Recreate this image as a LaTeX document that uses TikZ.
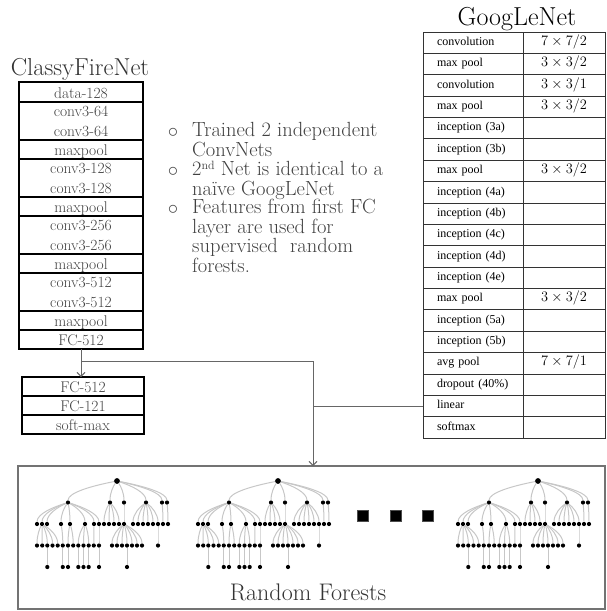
\documentclass[tikz,border=0pt]{standalone}
\usepackage{fontspec}
\usepackage{amsmath}
\newfontfamily\tabfont{Liberation Serif}
\usetikzlibrary{positioning,calc,arrows.meta}

\newcommand{\ordsup}[1]{\raisebox{6.5pt}{\fontsize{12}{12}\selectfont #1}}

\tikzset{
  cfbox/.style={draw, line width=1.3pt, minimum width=124pt, inner xsep=0pt, inner ysep=0pt,
    outer sep=0pt, text depth=3.5pt, anchor=base, align=center, text=black!75,
    font=\fontsize{15.5}{20}\selectfont},
  cfone/.style={cfbox, text height=15.5pt},
  cftwo/.style={cfbox, text height=34.5pt},
  glcell/.style={draw=black!80, line width=0.8pt, minimum height=21.37pt, inner ysep=0pt,
    outer sep=0pt, text height=8pt, text depth=2.5pt, font=\tabfont\fontsize{12}{13}\selectfont},
  glname/.style={glcell, text width=72pt, inner xsep=14pt, align=left, anchor=north west},
  glsize/.style={glcell, minimum width=82pt, inner xsep=0pt, font=\fontsize{13.5}{15}\selectfont},
  notes/.style={anchor=base west, align=left, inner sep=0pt, text=black!75,
    font=\fontsize{20.5}{19.4}\selectfont},
  wire/.style={draw=black!60, line width=0.9pt},
  rfdot/.style={circle, fill=black, inner sep=0pt, minimum size=4.2pt},
  rfedge/.style={draw=black!22, line width=1pt},
  rfsq/.style={fill=black, draw=black!70, inner sep=0pt, minimum size=11pt},
  pics/rftree/.style={code={
    \node[rfdot, minimum size=5.8pt] (r) at (0,0) {};
    \foreach \x [count=\i] in {-49,-7,7,29,45,50}
      \node[rfdot] (a\i) at (\x,-21.5) {};
    \foreach \x [count=\i] in {-80,-75,-70,-56,-47,-32,-23,-18,-13,-8,-3,2,7,16,21,26,31,36,41,46,51}
      \node[rfdot] (b\i) at (\x,-43) {};
    \foreach \x [count=\i] in {-80,-74.8,-69.7,-64.5,-59.3,-54.2,-49,-43.8,-38.7,-33.5,-28.3,-23.2,-18,-5,0,5,10,15,20,25,41}
      \node[rfdot] (c\i) at (\x,-64.5) {};
    \foreach \p [count=\i] in {3,6,7,9,10,11,13,17}
      \node[rfdot] (d\i) at (c\p |- 0,-86) {};
    % links, level by level
    \foreach \i in {1,...,6}
      \draw[rfedge] (r) .. controls ($(r)!.5!(a\i)+(0,6)$) and ($(a\i)+(0,10)$) .. (a\i);
    \foreach \p/\ia/\ib in {1/1/8,2/9/12,3/13/13,4/14/19,5/20/20,6/21/21}
      \foreach \i in {\ia,...,\ib}
        \draw[rfedge] (a\p) .. controls ($(a\p)!.5!(b\i)+(0,6)$) and ($(b\i)+(0,10)$) .. (b\i);
    \foreach \p/\ia/\ib in {2/1/5,4/6/6,5/7/8,6/9/11,7/12/12,8/13/13,13/14/20,19/21/21}
      \foreach \i in {\ia,...,\ib}
        \draw[rfedge] (b\p) .. controls ($(b\p)!.5!(c\i)+(0,6)$) and ($(c\i)+(0,10)$) .. (c\i);
    \foreach \p [count=\i] in {3,6,7,9,10,11,13,17}
      \draw[rfedge] (c\p) -- (d\i);
  }}
}

\begin{document}
\begin{tikzpicture}[x=1pt,y=1pt,>={Straight Barb[length=4pt,width=8pt]}]
  \useasboundingbox (0,0) rectangle (607,-611);

  % ClassyFireNet
  \node[anchor=base, text=black!80, font=\fontsize{24.5}{28}\selectfont] (cftitle) at (80,-75) {ClassyFireNet};
  \node[cfbox, text height=16.5pt] (data) at (81,-98.5) {data-128};
  \node[cftwo, below=0pt of data] (c64) {conv3-64\\conv3-64};
  \node[cfone, below=0pt of c64] (mp1) {maxpool};
  \node[cftwo, below=0pt of mp1] (c128) {conv3-128\\conv3-128};
  \node[cfone, below=0pt of c128] (mp2) {maxpool};
  \node[cftwo, below=0pt of mp2] (c256) {conv3-256\\conv3-256};
  \node[cfone, below=0pt of c256] (mp3) {maxpool};
  \node[cftwo, below=0pt of mp3] (c512) {conv3-512\\conv3-512};
  \node[cfone, below=0pt of c512] (mp4) {maxpool};
  \node[cfone, below=0pt of mp4] (fcA) {FC-512};
  \node[cfone, minimum width=122pt, below=28pt of fcA, xshift=2pt] (fcB) {FC-512};
  \node[cfone, minimum width=122pt, below=0pt of fcB] (fcC) {FC-121};
  \node[cfone, minimum width=122pt, below=0pt of fcC] (smax) {soft-max};

  % notes
  \foreach \y [count=\i] in {137,176,214}
    \node[anchor=base, inner sep=0pt, text=black!70, font=\fontsize{20}{20}\selectfont] (bul\i) at (173,-\y) {$\circ$};
  \node[notes] (txt1) at (192,-156) {Trained 2 independent\\ConvNets};
  \node[notes] (txt2) at (192,-195) {2\ordsup{nd} Net is identical to a\\naïve GoogLeNet};
  \node[notes] (txt3) at (192,-272) {Features from first FC\\layer are used for\\supervised\ \ random\\forests.};

  % GoogLeNet
  \node[anchor=base, font=\fontsize{26}{30}\selectfont] (gltitle) at (517,-25) {GoogLeNet};
  \foreach \lay/\sz [count=\i] in {convolution/{$7\times7/2$}, {max pool}/{$3\times3/2$},
      convolution/{$3\times3/1$}, {max pool}/{$3\times3/2$}, {inception (3a)}/{}, {inception (3b)}/{},
      {max pool}/{$3\times3/2$}, {inception (4a)}/{}, {inception (4b)}/{}, {inception (4c)}/{},
      {inception (4d)}/{}, {inception (4e)}/{}, {max pool}/{$3\times3/2$}, {inception (5a)}/{},
      {inception (5b)}/{}, {avg pool}/{$7\times7/1$}, {dropout (40\%)}/{}, linear/{}, softmax/{}} {
    \node[glname] (g\i) at (423,{-32-(\i-1)*21.37}) {\lay};
    \node[glsize, right=0pt of g\i] (v\i) {\sz};
  }

  % random forests
  \node[draw=black!55, line width=1.2pt, minimum width=587pt, minimum height=143pt,
    anchor=north west, inner sep=0pt, outer sep=0pt] (forest) at (18,-466) {};
  \pic (t1) at (117,-481) {rftree};
  \pic (t2) at (278,-481) {rftree};
  \pic (t3) at (538,-481) {rftree};
  \foreach \x [count=\i] in {363,396,428}
    \node[rfsq] (sq\i) at (\x,-516) {};
  \node[anchor=base, text=black!80, font=\fontsize{24}{28}\selectfont] (rftitle) at (308,-600) {Random Forests};

  % connectors
  \coordinate (fork) at (313,-361);
  \draw[wire,->] (fcA.south) -- (fcA.south |- fcB.north);
  \draw[wire,->] (fcA.south |- fork) -- (fork) -- (fork |- forest.north);
  \draw[wire] (g18.west) -- (g18.west -| fork);
\end{tikzpicture}
\end{document}
